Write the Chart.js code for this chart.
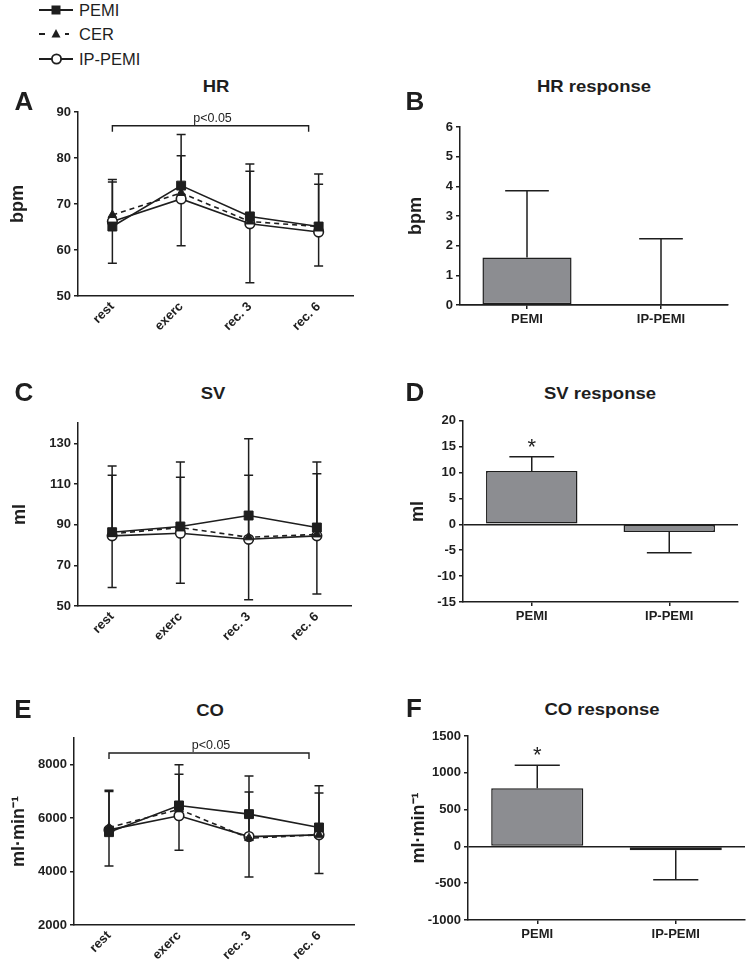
<!DOCTYPE html>
<html>
<head>
<meta charset="utf-8">
<script src="https://cdn.jsdelivr.net/npm/chart.js@4.4.1/dist/chart.umd.min.js"></script>
<style>
  html, body { margin: 0; padding: 0; background: #fff; }
  body { width: 747px; height: 969px; position: relative; overflow: hidden; font-family: 'Liberation Sans', Arial, sans-serif; }
  canvas { position: absolute; }
  .txt { position: absolute; line-height: 1; white-space: nowrap; color: #1e1e1e; }
</style>
</head>
<body>
<svg id="legendSym" width="80" height="70" style="position:absolute;left:0;top:0">
  <line x1="39" y1="10" x2="73" y2="10" stroke="#1e1e1e" stroke-width="1.8"/>
  <rect x="51.5" y="5.5" width="9" height="9" fill="#1e1e1e"/>
  <line x1="39" y1="34" x2="73" y2="34" stroke="#1e1e1e" stroke-width="1.8" stroke-dasharray="6,6"/>
  <rect x="47" y="28" width="18" height="12" fill="#fff"/>
  <polygon points="56,29 60.5,37.5 51.5,37.5" fill="#1e1e1e"/>
  <line x1="39" y1="59" x2="73" y2="59" stroke="#1e1e1e" stroke-width="1.8"/>
  <circle cx="56.5" cy="59" r="4.6" fill="#fff" stroke="#1e1e1e" stroke-width="1.8"/>
</svg>
<canvas id="cA" width="370" height="260" style="left:0;top:100px"></canvas>
<canvas id="cB" width="377" height="260" style="left:370px;top:100px"></canvas>
<canvas id="cC" width="370" height="250" style="left:0;top:410px"></canvas>
<canvas id="cD" width="377" height="250" style="left:370px;top:410px"></canvas>
<canvas id="cE" width="370" height="244" style="left:0;top:725px"></canvas>
<canvas id="cF" width="377" height="244" style="left:370px;top:725px"></canvas>
<script>
// ---------------- DATA ----------------
const timepoints = ['rest', 'exerc', 'rec. 3', 'rec. 6'];
const groups = ['PEMI', 'IP-PEMI'];
const seriesNames = ['PEMI', 'CER', 'IP-PEMI'];

// HR (bpm)
const hrPemi = [65.1, 74.0, 67.3, 65.1];
const hrCer = [67.6, 72.4, 66.2, 65.1];
const hrIpPemi = [66.2, 71.1, 65.7, 63.9];
const hrPemiUpper = [75.3, 85.1, 78.7, 76.5];
const hrPemiLower = [57.1, 60.9, 52.9, 56.5];
const hrIpPemiUpper = [74.8, 80.5, 77.1, 74.3];
const hrTicks = [50, 60, 70, 80, 90];

// HR response (bpm)
const hrResponse = [1.6, 0];
const hrResponseErr = [3.85, 2.23];
const hrResponseTicks = [0, 1, 2, 3, 4, 5, 6];

// SV (ml)
const svPemi = [86.3, 89.1, 94.5, 88.6];
const svCer = [85.5, 88.6, 83.8, 85.2];
const svIpPemi = [84.5, 85.8, 82.8, 84.5];
const svPemiUpper = [118.8, 120.8, 132.3, 120.8];
const svPemiLower = [59.1, 61.2, 53.1, 55.9];
const svIpPemiUpper = [114.3, 113.3, 114.3, 115.0];
const svTicks = [50, 70, 90, 110, 130];

// SV response (ml)
const svResponse = [10.3, -1.47];
const svResponseErr = [13.05, -5.5];
const svResponseTicks = [-15, -10, -5, 0, 5, 10, 15, 20];

// CO (ml/min)
const coPemi = [5475, 6475, 6150, 5650];
const coCer = [5650, 6330, 5250, 5375];
const coIpPemi = [5560, 6090, 5310, 5375];
const coPemiUpper = [7040, 8000, 7575, 7210];
const coPemiLower = [4210, 4800, 3800, 3925];
const coIpPemiUpper = [7000, 7640, 6975, 6940];
const coTicks = [2000, 4000, 6000, 8000];

// CO response (ml/min)
const coResponse = [791, -54];
const coResponseErr = [1103, -452];
const coResponseTicks = [-1000, -500, 0, 500, 1000, 1500];

// ---------------- STYLE / HELPERS ----------------
const ink = '#1e1e1e';
const barFill = '#8c8d91';
Chart.defaults.font.family = "'Liberation Sans', Arial, sans-serif";
Chart.defaults.color = ink;

function addText(text, cx, cy, css) {
  const d = document.createElement('div');
  d.className = 'txt';
  d.textContent = text;
  d.style.left = cx + 'px';
  d.style.top = cy + 'px';
  d.style.cssText += css;
  document.body.appendChild(d);
}

const errorBars = {
  id: 'errorBars',
  beforeDatasetsDraw(chart) {
    const ctx = chart.ctx, ys = chart.scales.y;
    chart.data.datasets.forEach((ds, di) => {
      if (!ds.errUpper && !ds.errLower) return;
      const meta = chart.getDatasetMeta(di);
      ctx.save();
      ctx.strokeStyle = ink;
      ctx.lineWidth = 1.5;
      meta.data.forEach((el, i) => {
        const x = el.x;
        const y0 = ys.getPixelForValue(ds.data[i]);
        const hw = el.width ? el.width * 0.245 : 4.5;
        [ds.errUpper, ds.errLower].forEach(arr => {
          if (!arr || arr[i] == null) return;
          const ye = ys.getPixelForValue(arr[i]);
          ctx.beginPath();
          ctx.moveTo(x, y0); ctx.lineTo(x, ye);
          ctx.moveTo(x - hw, ye); ctx.lineTo(x + hw, ye);
          ctx.stroke();
        });
      });
      ctx.restore();
    });
  }
};

const bracket = {
  id: 'bracket',
  afterDatasetsDraw(chart, args, o) {
    if (!o || o.value == null) return;
    const ctx = chart.ctx, xs = chart.scales.x, ys = chart.scales.y;
    const x1 = xs.getPixelForValue(o.from);
    const x2 = xs.getPixelForValue(o.to) - 10;
    const y = ys.getPixelForValue(o.value);
    ctx.save();
    ctx.strokeStyle = ink; ctx.lineWidth = 1.4;
    ctx.beginPath();
    ctx.moveTo(x1, y + 6); ctx.lineTo(x1, y); ctx.lineTo(x2, y); ctx.lineTo(x2, y + 6);
    ctx.stroke();
    ctx.fillStyle = ink;
    ctx.font = "12.5px 'Liberation Sans', Arial, sans-serif";
    ctx.textAlign = 'center'; ctx.textBaseline = 'alphabetic';
    ctx.fillText(o.text, (x1 + x2) / 2 + 2, y - 4);
    ctx.restore();
  }
};

const stars = {
  id: 'stars',
  afterDatasetsDraw(chart, args, o) {
    if (!o || !o.indices) return;
    const ctx = chart.ctx, ys = chart.scales.y;
    const ds = chart.data.datasets[0];
    const meta = chart.getDatasetMeta(0);
    ctx.save();
    ctx.fillStyle = ink;
    ctx.font = "22px 'Liberation Sans', Arial, sans-serif";
    ctx.textAlign = 'center'; ctx.textBaseline = 'alphabetic';
    o.indices.forEach(i => {
      const ye = ys.getPixelForValue(ds.errUpper[i]);
      ctx.fillText('*', meta.data[i].x, ye - 3);
    });
    ctx.restore();
  }
};

function yAxis(min, max, ticks, title, width, titlePad, zeroLine) {
  return {
    type: 'linear', min, max,
    afterBuildTicks: s => { s.ticks = ticks.map(v => ({ value: v })); },
    afterFit: s => { s.width = width; },
    border: { display: true, color: ink, width: 1.5 },
    grid: {
      display: true,
      drawOnChartArea: !!zeroLine,
      color: c => (zeroLine && c.tick && c.tick.value === 0) ? ink : 'rgba(0,0,0,0)',
      lineWidth: 1.5,
      tickColor: ink, tickLength: 4, drawTicks: true
    },
    ticks: { color: ink, padding: 3, font: { size: 13, weight: 'bold' }, callback: v => String(v) },
    title: { display: true, text: title, color: ink, font: { size: 18, weight: 'bold' }, padding: { top: titlePad, bottom: 0 } }
  };
}

function lineChart(id, o) {
  return new Chart(document.getElementById(id), {
    type: 'line',
    data: {
      labels: timepoints,
      datasets: [
        { label: seriesNames[0], data: o.pemi, errUpper: o.pemiUp, errLower: o.pemiLo,
          borderColor: ink, borderWidth: 1.6, pointStyle: 'rect', pointRadius: 6.3,
          pointBackgroundColor: ink, pointBorderColor: ink, pointBorderWidth: 1 },
        { label: seriesNames[1], data: o.cer, borderColor: ink, borderWidth: 1.6, borderDash: [5, 4],
          pointStyle: 'triangle', pointRadius: 5, pointBackgroundColor: ink, pointBorderColor: ink, pointBorderWidth: 1 },
        { label: seriesNames[2], data: o.ip, errUpper: o.ipUp,
          borderColor: ink, borderWidth: 1.6, pointStyle: 'circle', pointRadius: 4.8,
          pointBackgroundColor: '#fff', pointBorderColor: ink, pointBorderWidth: 1.6 }
      ]
    },
    options: {
      responsive: false, animation: false, devicePixelRatio: 1,
      layout: { padding: { top: o.padTop, right: o.padRight, left: 0, bottom: 0 } },
      plugins: { legend: { display: false }, tooltip: { enabled: false }, bracket: o.bracket || {} },
      scales: {
        x: {
          type: 'category', offset: true,
          afterFit: s => { s.height = o.xHeight; },
          border: { display: true, color: ink, width: 1.5 },
          grid: { display: false, drawTicks: false },
          ticks: { color: ink, padding: 3, minRotation: 45, maxRotation: 45, font: { size: 13, weight: 'bold' } }
        },
        y: yAxis(o.min, o.max, o.ticks, o.title, o.yWidth, o.titlePad, false)
      }
    },
    plugins: [errorBars, bracket]
  });
}

function barChart(id, o) {
  return new Chart(document.getElementById(id), {
    type: 'bar',
    data: {
      labels: groups,
      datasets: [{ data: o.values, errUpper: o.err, backgroundColor: barFill, borderColor: ink,
        borderWidth: 1.5, borderSkipped: false, barPercentage: 0.665, categoryPercentage: 1 }]
    },
    options: {
      responsive: false, animation: false, devicePixelRatio: 1,
      layout: { padding: { top: o.padTop, right: o.padRight, left: 0, bottom: 0 } },
      plugins: { legend: { display: false }, tooltip: { enabled: false }, stars: o.stars || {} },
      scales: {
        x: {
          type: 'category', offset: true,
          afterFit: s => { s.height = o.xHeight; },
          border: { display: true, color: ink, width: 1.5 },
          grid: { display: true, offset: false, drawOnChartArea: false, drawTicks: true, tickLength: 4, tickColor: ink, color: ink, lineWidth: 1.5 },
          ticks: { color: ink, padding: 3, maxRotation: 0, font: { size: 13, weight: 'bold' } }
        },
        y: yAxis(o.min, o.max, o.ticks, o.title, o.yWidth, o.titlePad, true)
      }
    },
    plugins: [errorBars, stars]
  });
}

// ---------------- CHARTS ----------------
lineChart('cA', { pemi: hrPemi, cer: hrCer, ip: hrIpPemi, pemiUp: hrPemiUpper, pemiLo: hrPemiLower, ipUp: hrIpPemiUpper,
  min: 50, max: 90, ticks: hrTicks, title: 'bpm', yWidth: 78, titlePad: 6.8, padTop: 12, padRight: 17, xHeight: 64,
  bracket: { from: 0, to: 3, value: 87, text: 'p<0.05' } });
barChart('cB', { values: hrResponse, err: hrResponseErr, min: 0, max: 6, ticks: hrResponseTicks, title: 'bpm',
  yWidth: 90, titlePad: 34.8, padTop: 27, padRight: 19, xHeight: 55 });
lineChart('cC', { pemi: svPemi, cer: svCer, ip: svIpPemi, pemiUp: svPemiUpper, pemiLo: svPemiLower, ipUp: svIpPemiUpper,
  min: 50, max: 140, ticks: svTicks, title: 'ml', yWidth: 78, titlePad: 9.2, padTop: 13, padRight: 19, xHeight: 54 });
barChart('cD', { values: svResponse, err: svResponseErr, min: -15, max: 20, ticks: svResponseTicks, title: 'ml',
  yWidth: 93, titlePad: 37.2, padTop: 10, padRight: 9, xHeight: 58, stars: { indices: [0] } });
lineChart('cE', { pemi: coPemi, cer: coCer, ip: coIpPemi, pemiUp: coPemiUpper, pemiLo: coPemiLower, ipUp: coIpPemiUpper,
  min: 2000, max: 9000, ticks: coTicks, title: 'ml·min⁻¹', yWidth: 74, titlePad: 8.2, padTop: 13, padRight: 16, xHeight: 44,
  bracket: { from: 0, to: 3, value: 8440, text: 'p<0.05' } });
barChart('cF', { values: coResponse, err: coResponseErr, min: -1000, max: 1500, ticks: coResponseTicks, title: 'ml·min⁻¹',
  yWidth: 98, titlePad: 38.7, padTop: 11, padRight: 2, xHeight: 49, stars: { indices: [0] } });

// ---------------- TEXT OVERLAYS ----------------
const titleCss = "font:bold 16.5px 'Liberation Sans',Arial,sans-serif;transform:translate(-50%,-50%) scaleX(1.12);";
const letterCss = "font:bold 26px 'Liberation Sans',Arial,sans-serif;transform:translate(-50%,-50%);";
const legendCss = "font:16.5px 'Liberation Sans',Arial,sans-serif;transform:translate(0,-50%);";
addText('HR', 216, 86, titleCss);
addText('HR response', 594, 86, titleCss);
addText('SV', 213, 393, titleCss);
addText('SV response', 600, 393, titleCss);
addText('CO', 210, 710, titleCss);
addText('CO response', 602, 709, titleCss);
addText('A', 24, 101, letterCss);
addText('B', 415, 101, letterCss);
addText('C', 24, 392, letterCss);
addText('D', 415, 392, letterCss);
addText('E', 23, 709, letterCss);
addText('F', 414, 708, letterCss);
addText(seriesNames[0], 79, 10, legendCss);
addText(seriesNames[1], 79, 34, legendCss);
addText(seriesNames[2], 79, 59, legendCss);
</script>
</body>
</html>
